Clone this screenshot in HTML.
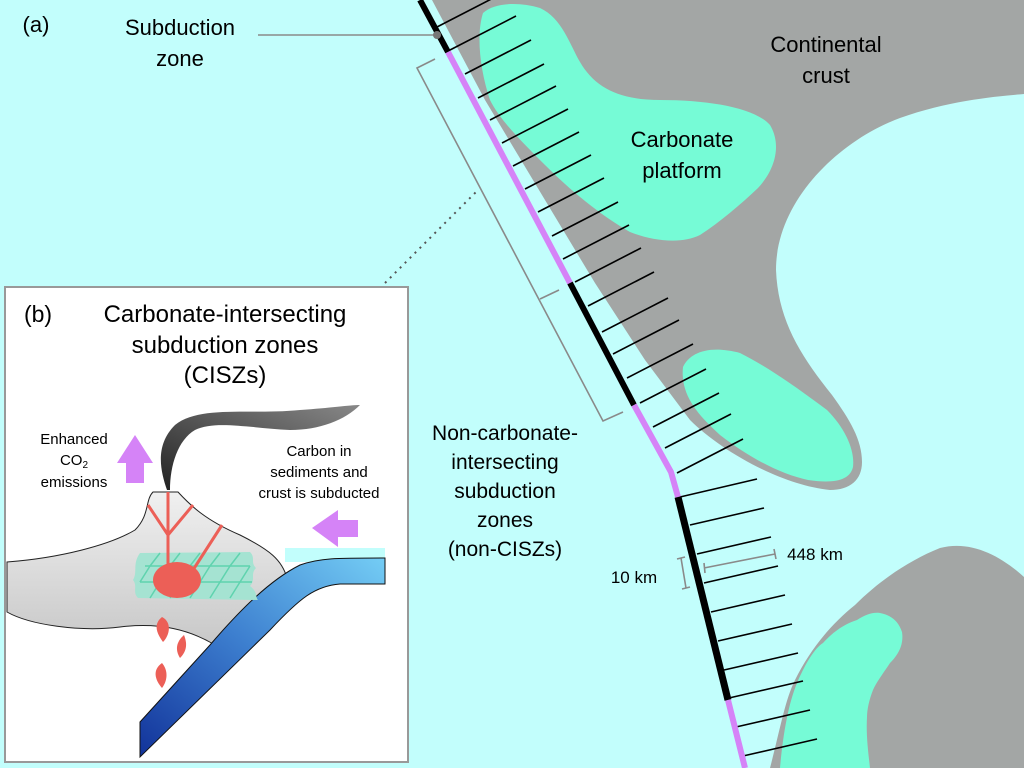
<!DOCTYPE html>
<html><head><meta charset="utf-8"><style>
html,body{margin:0;padding:0;background:#c2fefc;}
svg{display:block;font-family:"Liberation Sans",sans-serif;}
</style></head><body>
<svg width="1024" height="768" viewBox="0 0 1024 768" xmlns="http://www.w3.org/2000/svg">
<defs>
<linearGradient id="slab" x1="1" y1="0" x2="0" y2="1">
<stop offset="0" stop-color="#74cdf5"/><stop offset="0.5" stop-color="#3d7fcf"/><stop offset="1" stop-color="#12339a"/></linearGradient>
<linearGradient id="smoke" x1="0" y1="1" x2="1" y2="0">
<stop offset="0" stop-color="#222"/><stop offset="1" stop-color="#888"/></linearGradient>
<linearGradient id="crust" x1="0" y1="0" x2="0" y2="1">
<stop offset="0" stop-color="#f0f0f0"/><stop offset="1" stop-color="#c8c8c8"/></linearGradient>
</defs>
<rect width="1024" height="768" fill="#c2fefc"/>
<!-- continental crust -->
<path d="M432,0 L485,100 L545,200 L595,283 L645,360 L690,420 C720,450 780,485 830,490 C850,490 862,480 862,462 C862,440 850,420 832,395 C800,355 778,320 776,270 C776,200 840,140 900,118 C950,100 1000,96 1024,94 L1024,0 Z" fill="#a3a6a5"/>
<path d="M770,768 C780,730 785,700 795,680 C810,650 830,625 855,605 C880,580 910,560 940,548 C970,540 1000,555 1024,577 L1024,768 Z" fill="#a3a6a5"/>
<!-- carbonate platforms -->
<path d="M483,13 C495,2 520,2 540,8 C562,18 570,45 580,62 C595,88 620,100 660,100 C710,100 755,108 770,125 C782,145 775,170 758,188 C740,205 720,222 700,235 C680,245 650,240 630,232 C600,215 570,190 545,165 C520,140 500,120 490,100 C480,70 476,35 483,13 Z" fill="#76fbd6"/>
<path d="M683,367 C690,352 710,345 740,353 C770,368 800,390 827,410 C845,428 855,450 853,467 C850,480 835,484 808,480 C780,474 750,458 720,435 C698,415 680,395 683,367 Z" fill="#76fbd6"/>
<path d="M780,768 C783,735 788,705 797,683 C806,662 815,648 823,643 C835,630 845,624 857,620 C865,615 872,612 880,613 C890,615 898,620 902,632 C904,645 898,655 890,663 C882,675 876,683 873,690 C869,700 867,710 867,717 C866,735 868,750 870,768 Z" fill="#76fbd6"/>
<!-- hachures -->
<g stroke="#000" stroke-width="1.6">
<line x1="437" y1="27" x2="503" y2="-7"/>
<line x1="450" y1="50" x2="516" y2="16"/>
<line x1="465" y1="74" x2="531" y2="40"/>
<line x1="478" y1="98" x2="544" y2="64"/>
<line x1="490" y1="120" x2="556" y2="86"/>
<line x1="502" y1="143" x2="568" y2="109"/>
<line x1="513" y1="166" x2="579" y2="132"/>
<line x1="525" y1="189" x2="591" y2="155"/>
<line x1="538" y1="212" x2="604" y2="178"/>
<line x1="552" y1="236" x2="618" y2="202"/>
<line x1="563" y1="259" x2="629" y2="225"/>
<line x1="575" y1="282" x2="641" y2="248"/>
<line x1="588" y1="306" x2="654" y2="272"/>
<line x1="602" y1="332" x2="668" y2="298"/>
<line x1="613" y1="354" x2="679" y2="320"/>
<line x1="627" y1="378" x2="693" y2="344"/>
<line x1="640" y1="403" x2="706" y2="369"/>
<line x1="653" y1="427" x2="719" y2="393"/>
<line x1="665" y1="448" x2="731" y2="414"/>
<line x1="677" y1="473" x2="743" y2="439"/>
<line x1="680" y1="497" x2="757" y2="479"/>
<line x1="690" y1="525" x2="764" y2="508"/>
<line x1="697" y1="554" x2="771" y2="537"/>
<line x1="704" y1="583" x2="778" y2="566"/>
<line x1="711" y1="612" x2="785" y2="595"/>
<line x1="718" y1="641" x2="792" y2="624"/>
<line x1="724" y1="670" x2="798" y2="653"/>
<line x1="729" y1="698" x2="803" y2="681"/>
<line x1="736" y1="727" x2="810" y2="710"/>
<line x1="743" y1="756" x2="817" y2="739"/>
</g>
<!-- trench -->
<g fill="none" stroke-linecap="butt">
<path d="M420,0 L448,52" stroke="#000" stroke-width="6"/>
<path d="M448,52 L570,283" stroke="#d583f7" stroke-width="6"/>
<path d="M570,283 L634,405" stroke="#000" stroke-width="6"/>
<path d="M634,405 L671,472 L678,497" stroke="#d583f7" stroke-width="6"/>
<path d="M678,497 L728,700" stroke="#000" stroke-width="7"/>
<path d="M728,700 L745,768" stroke="#d583f7" stroke-width="6"/>
</g>
<!-- bracket -->
<g fill="none" stroke="#8a8a8a" stroke-width="1.6">
<path d="M435,59 L417,68 L603,421 L623,412"/>
<path d="M540,299 L559,290"/>
<path d="M385,283 L478,190" stroke-dasharray="2,5" stroke="#555" stroke-width="2"/>
<path d="M258,35 L437,35"/>
<path d="M681,558 L686,588 M677,559 L685,557 M682,589 L690,587"/>
<path d="M704,568 L775,554 M704,563 L705,573 M774,549 L776,559"/>
</g>
<circle cx="437" cy="35" r="4" fill="#777"/>
<!-- texts -->
<g fill="#000" text-anchor="middle" font-size="22">
<text x="36" y="32">(a)</text>
<text x="180" y="35">Subduction</text>
<text x="180" y="66">zone</text>
<text x="826" y="52">Continental</text>
<text x="826" y="83">crust</text>
<text x="682" y="147">Carbonate</text>
<text x="682" y="178">platform</text>
<text x="505" y="440" font-size="21">Non-carbonate-</text>
<text x="505" y="469" font-size="21">intersecting</text>
<text x="505" y="498" font-size="21">subduction</text>
<text x="505" y="527" font-size="21">zones</text>
<text x="505" y="556" font-size="21">(non-CISZs)</text>
<text x="634" y="583" font-size="17">10 km</text>
<text x="815" y="560" font-size="17">448 km</text>
</g>
<!-- inset -->
<rect x="5" y="287" width="403" height="475" fill="#fff" stroke="#999" stroke-width="2"/>
<g fill="#000" font-size="24" text-anchor="middle">
<text x="38" y="322" font-size="23">(b)</text>
<text x="225" y="322">Carbonate-intersecting</text>
<text x="225" y="353">subduction zones</text>
<text x="225" y="383">(CISZs)</text>
</g>
<rect x="285" y="548" width="100" height="14" fill="#c2fefc"/>
<path d="M7,562 C60,558 110,545 135,530 C150,515 145,500 153,492 L178,492 C190,505 205,520 240,535 C270,550 282,560 287,578 L240,640 L215,645 C190,630 160,622 120,627 C80,632 30,625 7,612 Z" fill="url(#crust)" stroke="#222" stroke-width="1"/>
<path d="M140,722 L210,645 C240,610 270,580 300,565 C320,558 335,558 385,558 L385,584 L340,584 C315,586 300,598 270,630 L140,757 Z" fill="url(#slab)" stroke="#111" stroke-width="1"/>
<g>
<path d="M140,553 L250,552 C256,558 250,562 256,568 C250,574 256,580 250,586 C258,592 255,597 258,600 L138,598 C132,592 138,586 133,580 C138,572 132,564 140,553 Z" fill="#a5e3d2"/>
<g stroke="#5fd3ae" stroke-width="1.5" fill="none">
<path d="M145,566 L250,566 M140,582 L252,582"/>
<path d="M160,553 L150,566 M180,553 L170,566 M200,553 L190,566 M220,553 L210,566 M240,553 L230,566"/>
<path d="M150,566 L140,582 M170,566 L160,582 M190,566 L180,582 M210,566 L200,582 M230,566 L220,582 M250,566 L240,582"/>
<path d="M160,582 L150,598 M180,582 L170,598 M200,582 L190,598 M220,582 L210,598 M240,582 L230,598"/>
</g>
</g>
<g stroke="#ec5f57" stroke-width="3" fill="none">
<path d="M168,492 L168,568"/>
<path d="M148,505 L168,535 L193,505"/>
<path d="M222,525 L193,570"/>
</g>
<ellipse cx="177" cy="580" rx="24" ry="18" fill="#ec5f57"/>
<g fill="#ec5f57">
<path d="M162,617 C172,622 170,635 163,642 C158,635 152,625 162,617 Z"/>
<path d="M184,635 C188,645 186,652 180,658 C175,650 176,642 184,635 Z"/>
<path d="M162,663 C168,670 168,680 162,688 C155,680 152,670 162,663 Z"/>
</g>
<path d="M167,490 C160,470 155,445 175,425 C200,405 250,415 300,410 C330,408 350,405 360,405 C345,420 320,430 290,430 C250,428 215,420 195,430 C178,440 170,465 170,490 Z" fill="url(#smoke)"/>
<path d="M135,435 L153,463 L144,463 L144,483 L126,483 L126,463 L117,463 Z" fill="#d583f7"/>
<path d="M312,528 L338,510 L338,520 L358,520 L358,537 L338,537 L338,547 Z" fill="#d583f7"/>
<g fill="#000" font-size="15" text-anchor="middle">
<text x="74" y="444">Enhanced</text>
<text x="74" y="465">CO<tspan font-size="10" dy="3">2</tspan></text>
<text x="74" y="487">emissions</text>
<text x="319" y="456">Carbon in</text>
<text x="319" y="477">sediments and</text>
<text x="319" y="498">crust is subducted</text>
</g>
</svg>
</body></html>
